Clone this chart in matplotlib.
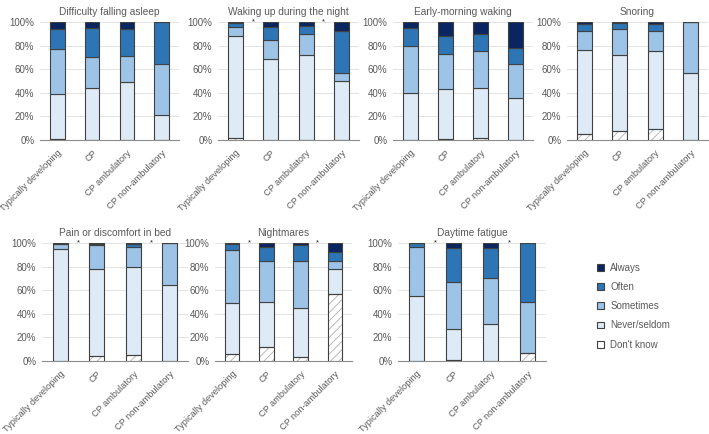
import matplotlib
matplotlib.use("Agg")
import matplotlib.pyplot as plt
from matplotlib.patches import Patch

plt.rcParams['font.family'] = ['Liberation Sans', 'DejaVu Sans']
plt.rcParams['hatch.linewidth'] = 0.6

groups = ["Typically developing", "CP", "CP ambulatory", "CP non-ambulatory"]
titles = ["Difficulty falling asleep", "Waking up during the night", "Early-morning waking",
          "Snoring", "Pain or discomfort in bed", "Nightmares", "Daytime fatigue"]

# percentages per panel, per group (TD, CP, CP amb, CP non-amb)
dont_know = [[1, 0, 0, 0], [2, 0, 0, 0], [0, 1, 2, 0], [5, 8, 9, 0],
             [0, 4, 5, 0], [6, 12, 3, 57], [0, 1, 0, 7]]
never = [[38, 44, 49, 21], [86, 69, 72, 50], [40, 42, 42, 36], [71, 64, 66, 57],
         [95, 74, 75, 64], [43, 38, 42, 21], [55, 26, 31, 0]]
sometimes = [[38, 26, 22, 43], [8, 16, 18, 7], [40, 30, 31, 28], [16, 22, 17, 43],
             [4, 20, 17, 36], [45, 35, 40, 7], [42, 40, 39, 43]]
often = [[17, 25, 23, 36], [3, 11, 7, 35], [15, 15, 15, 14], [6, 5, 6, 0],
         [0, 1, 2, 0], [5, 12, 13, 7], [3, 29, 26, 50]]
always = [[6, 5, 6, 0], [1, 4, 3, 8], [5, 12, 10, 22], [2, 1, 2, 0],
          [1, 1, 1, 0], [1, 3, 2, 8], [0, 4, 4, 0]]
# significance marks: panel -> x positions (between bars)
stars = {1: [0.5, 2.5], 4: [0.5, 2.5], 5: [0.5, 2.5], 6: [0.5, 2.5]}

labels = ["Always", "Often", "Sometimes", "Never/seldom", "Don't know"]
colors = {"Always": "#0a2660", "Often": "#2e75b6", "Sometimes": "#9dc3e6",
          "Never/seldom": "#deebf7", "Don't know": "#ffffff"}
edge = "#404040"
txt = "#595959"

W, H = 709, 434
fig = plt.figure(figsize=(W / 100, H / 100), dpi=100)

# pixel boxes: left, right, top(100%), bottom(0%)
boxes = [(40, 179, 22, 140), (218, 359, 22, 140), (393, 533, 22, 140), (567, 708, 22, 140),
         (42, 188, 243, 361), (215, 352, 243, 361), (398, 546, 243, 361)]

for p, (l, r, t, b) in enumerate(boxes):
    ax = fig.add_axes([l / W, 1 - b / H, (r - l) / W, (b - t) / H])
    x = list(range(len(groups)))
    bottom = [0] * 4
    series = [("Don't know", dont_know[p]), ("Never/seldom", never[p]),
              ("Sometimes", sometimes[p]), ("Often", often[p]), ("Always", always[p])]
    for name, vals in series:
        if name == "Don't know":
            # hatch in light gray, outline drawn separately
            ax.bar(x, vals, width=0.42, bottom=bottom, color="white",
                   edgecolor="#b0b0b0", linewidth=0, hatch="////", zorder=3)
            ax.bar(x, vals, width=0.42, bottom=bottom, fill=False,
                   edgecolor=edge, linewidth=0.8, zorder=4)
        else:
            ax.bar(x, vals, width=0.42, bottom=bottom, color=colors[name],
                   edgecolor=edge, linewidth=0.8, zorder=3)
        bottom = [a + v for a, v in zip(bottom, vals)]
    for sx in stars.get(p, []):
        ax.text(sx, 100, "*", ha="center", va="center", fontsize=5.5, color="#222222")
    ax.set_xlim(-0.5, 3.5)
    ax.set_ylim(0, 100)
    ax.set_yticks(range(0, 101, 20))
    ax.set_yticklabels([f"{v}%" for v in range(0, 101, 20)], fontsize=7, color=txt)
    ax.set_xticks(x)
    ax.set_xticklabels(groups, rotation=45, ha="right", rotation_mode="anchor",
                       fontsize=6.6, color=txt)
    ax.tick_params(length=0, pad=4)
    ax.tick_params(axis="x", pad=6)
    ax.grid(axis="y", color="#e3e3e3", linewidth=0.7, zorder=0)
    for s in ["top", "right", "left"]:
        ax.spines[s].set_visible(False)
    ax.spines["bottom"].set_color("#8c8c8c")
    ax.set_title(titles[p], fontsize=7.3, color=txt, pad=5)

handles = [Patch(facecolor=colors[n], edgecolor=edge, linewidth=0.8) for n in labels]
fig.legend(handles, labels, loc="upper left", bbox_to_anchor=(588 / W, 1 - 254 / H),
           frameon=False, fontsize=7, labelcolor=txt, handlelength=0.7, handleheight=0.7,
           labelspacing=0.95, handletextpad=0.7)

fig.savefig("out.png", dpi=100)
